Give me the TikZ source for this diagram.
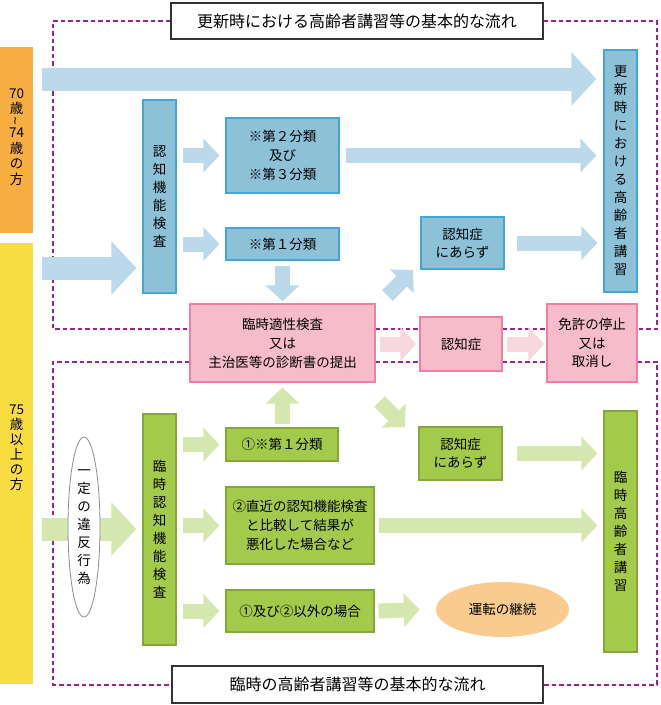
\documentclass[tikz,border=0pt]{standalone}
\usepackage{fontspec}
\usepackage{graphicx}
\newfontfamily\jp{Noto Sans CJK JP}
\newfontfamily\dv{DejaVu Sans}
\usetikzlibrary{calc,arrows.meta,shapes.geometric}
\definecolor{orangebar}{HTML}{F9AE42}
\definecolor{yellowbar}{HTML}{F9DC40}
\definecolor{lblue}{HTML}{BCD9EB}
\definecolor{bfill}{HTML}{8CC1D7}
\definecolor{bline}{HTML}{45A6D5}
\definecolor{pfill}{HTML}{F7BCCA}
\definecolor{pline}{HTML}{EF7FA3}
\definecolor{lpink}{HTML}{F9D7DF}
\definecolor{gfill}{HTML}{A3CA4B}
\definecolor{gline}{HTML}{84A83C}
\definecolor{lgreen}{HTML}{D4E7AE}
\definecolor{ofill}{HTML}{F9CB8E}
\definecolor{purp}{HTML}{9B2390}
\pgfdeclarelayer{bg}
\pgfdeclarelayer{mid}
\pgfsetlayers{bg,mid,main}
\begin{document}
\begin{tikzpicture}[x=1pt,y=-1pt,
  box/.style={draw, line width=1.2pt, inner sep=0pt, align=center, font=\jp\fontsize{13.5}{19}\selectfont},
  bluebox/.style={box, fill=bfill, draw=bline},
  pinkbox/.style={box, fill=pfill, draw=pline},
  greenbox/.style={box, fill=gfill, draw=gline},
  vtext/.style={font=\jp\fontsize{13.5}{18}\selectfont},
  titlebox/.style={draw=black!80, line width=1.2pt, fill=white, inner sep=0pt, font=\jp\fontsize{16}{18}\selectfont},
  bar/.style={inner sep=0pt, minimum width=33pt},
  bartext/.style={inner sep=0pt, align=center, font=\jp\fontsize{13.5}{15.5}\selectfont},
  bigarr/.style={line width=23pt, -{Triangle[width=52pt,length=25pt]}},
  smallarr/.style={line width=15pt, -{Triangle[width=33pt,length=16pt]}},
  dashp/.style={draw=purp, line width=2pt, dash pattern=on 4.5pt off 3pt}
]
\useasboundingbox (0,0) rectangle (661,705);

% titles
\node[titlebox, minimum width=372pt, minimum height=36pt] (title1) at (357,21) {更新時における高齢者講習等の基本的な流れ};
\node[titlebox, minimum width=371pt, minimum height=37pt] (title2) at (357.5,684.5) {臨時の高齢者講習等の基本的な流れ};

% age bars
\node[bar, fill=orangebar, minimum height=186pt] (bar70) at (16.5,140) {};
\node[bartext] (bar70t) at (16.5,137) {70\\歳\\[-3.5pt]\raisebox{2.5pt}{\rotatebox[origin=c]{90}{\dv\fontsize{11}{11}\selectfont ∼}}\\[-3.5pt]74\\歳\\の\\方};
\node[bar, fill=yellowbar, minimum height=441pt] (bar75) at (16.5,463.5) {};
\node[bartext, font=\jp\fontsize{13.5}{15}\selectfont] (bar75t) at (16.5,447.5) {75\\歳\\以\\上\\の\\方};

% blue part
\node[bluebox, minimum width=33pt, minimum height=193pt, vtext] (ninchi) at (159.5,196.5) {認\\知\\機\\能\\検\\査};
\node[bluebox, minimum width=113pt, minimum height=75pt] (b23) at (282.5,155.5) {※第２分類\\及び\\※第３分類};
\node[bluebox, minimum width=113pt, minimum height=32pt] (b1) at (282.5,244) {※第１分類};
\node[bluebox, minimum width=33pt, minimum height=242pt, vtext] (kosin) at (620.5,171) {更\\新\\時\\に\\お\\け\\る\\高\\齢\\者\\講\\習};
\node[bluebox, minimum width=83pt, minimum height=52pt, font=\jp\fontsize{13.5}{18}\selectfont] (naiB) at (462.5,243) {認知症\\にあらず};

% pink part
\node[pinkbox, minimum width=185pt, minimum height=78pt] (rinji) at (282.5,343) {臨時適性検査\\又は\\主治医等の診断書の提出};
\node[pinkbox, minimum width=82pt, minimum height=54pt] (nin) at (461,344) {認知症};
\node[pinkbox, minimum width=90pt, minimum height=78pt, font=\jp\fontsize{13.5}{18.5}\selectfont] (menkyo) at (592,343) {免許の停止\\又は\\取消し};

% green part
\node[draw=black!45, line width=0.8pt, fill=white, ellipse, inner sep=0pt, minimum width=32pt, minimum height=180pt, align=center, vtext] (ihan) at (84,527) {一\\定\\の\\違\\反\\行\\為};
\node[greenbox, minimum width=33pt, minimum height=231pt, vtext] (rnin) at (159.5,529.5) {臨\\時\\認\\知\\機\\能\\検\\査};
\node[greenbox, minimum width=112pt, minimum height=33pt] (g1) at (282,444.5) {①※第１分類};
\node[greenbox, minimum width=148pt, minimum height=77pt] (g2) at (300,525.5) {②直近の認知機能検査\\と比較して結果が\\悪化した場合など};
\node[greenbox, minimum width=148pt, minimum height=42pt] (g3) at (300,611) {①及び②以外の場合};
\node[greenbox, minimum width=83pt, minimum height=53pt, font=\jp\fontsize{13.5}{18}\selectfont] (naiG) at (460.5,453.5) {認知症\\にあらず};
\node[greenbox, minimum width=33pt, minimum height=241pt, vtext] (rkoshu) at (620.5,531.5) {臨\\時\\高\\齢\\者\\講\\習};
\node[ellipse, fill=ofill, inner sep=0pt, minimum width=133pt, minimum height=55pt, font=\jp\fontsize{13.5}{18}\selectfont] (unten) at (502.5,609.5) {運転の継続};

% helper coordinates
\coordinate (uy) at (0,329);
\coordinate (ly) at (0,362);
\coordinate (a1s) at (42,79);
\coordinate (a2s) at (42,268);
\coordinate (a3s) at (42,529);
\coordinate (d1s) at (387.5,295.5);
\coordinate (d1e) at (413,270);
\coordinate (d2s) at (379.5,401.5);
\coordinate (d2e) at (405,427);

% dashed frames
\begin{pgfonlayer}{bg}
\draw[dashp] (title1.west) -| (53,329) -- (rinji.west |- uy);
\draw[dashp] (title1.east) -| (657,329) -- (menkyo.east |- uy);
\draw[dashp] (rinji.east |- uy) -- (nin.west |- uy);
\draw[dashp] (nin.east |- uy) -- (menkyo.west |- uy);
\draw[dashp] (rinji.west |- ly) -| (53,684.5) -- (title2.west);
\draw[dashp] (menkyo.east |- ly) -| (657,684.5) -- (title2.east);
\draw[dashp] (rinji.east |- ly) -- (nin.west |- ly);
\draw[dashp] (nin.east |- ly) -- (menkyo.west |- ly);
\end{pgfonlayer}

% arrows
\begin{pgfonlayer}{mid}
\draw[bigarr, draw=lblue] (a1s) -- ($(kosin.west |- a1s)+(-7,0)$);
\draw[bigarr, draw=lblue] (a2s) -- ($(ninchi.west |- a2s)+(-6,0)$);
\draw[bigarr, draw=lgreen] (a3s) -- ($(rnin.west |- a3s)+(-6,0)$);
\draw[smallarr, draw=lblue] ($(ninchi.east |- b23.west)+(6,0)$) -- ($(b23.west)+(-6,0)$);
\draw[smallarr, draw=lblue] ($(ninchi.east |- b1.west)+(6,0)$) -- ($(b1.west)+(-6,0)$);
\draw[smallarr, draw=lblue] ($(b23.east)+(6,0)$) -- ($(kosin.west |- b23.east)+(-7,0)$);
\draw[smallarr, draw=lblue] ($(b1.south)+(0,5)$) -- ($(rinji.north)+(0,-2)$);
\draw[smallarr, draw=lblue] (d1s) -- (d1e);
\draw[smallarr, draw=lblue] ($(naiB.east)+(12,0)$) -- ($(kosin.west |- naiB.east)+(-6,0)$);
\draw[smallarr, draw=lpink] ($(rinji.east |- nin.west)+(4,0)$) -- ($(nin.west)+(-3,0)$);
\draw[smallarr, draw=lpink] ($(nin.east)+(4,0)$) -- ($(menkyo.west |- nin.east)+(-2,0)$);
\draw[smallarr, draw=lgreen] ($(rinji.south |- g1.north)+(0,-3)$) -- ($(rinji.south)+(0,5)$);
\draw[smallarr, draw=lgreen] (d2s) -- (d2e);
\draw[smallarr, draw=lgreen] ($(rnin.east |- g1.west)+(6,0)$) -- ($(g1.west)+(-6,0)$);
\draw[smallarr, draw=lgreen] ($(rnin.east |- g2.west)+(6,0)$) -- ($(g2.west)+(-6,0)$);
\draw[smallarr, draw=lgreen] ($(rnin.east |- g3.west)+(6,0)$) -- ($(g3.west)+(-6,0)$);
\draw[smallarr, draw=lgreen] ($(naiG.east)+(14,0)$) -- ($(rkoshu.west |- naiG.east)+(-6,0)$);
\draw[smallarr, draw=lgreen] ($(g2.east)+(4,0)$) -- ($(rkoshu.west |- g2.east)+(-6,0)$);
\draw[smallarr, draw=lgreen] ($(g3.east)+(4,0)$) -- ($(unten.west)+(-16,0)$);
\end{pgfonlayer}
\end{tikzpicture}
\end{document}
